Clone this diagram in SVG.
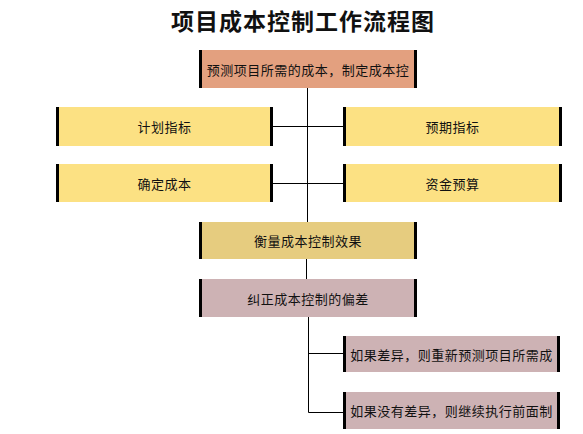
<svg xmlns="http://www.w3.org/2000/svg" width="583" height="434" viewBox="0 0 583 434">
<style>
.t{font-family:"Noto Sans CJK SC","Noto Sans",sans-serif;font-size:13px;fill:#111;text-anchor:middle;dominant-baseline:central;letter-spacing:0.5px}
.bar{stroke:#000;stroke-width:3}
.ln{stroke:#000;stroke-width:1;fill:none}
</style>
<rect width="583" height="434" fill="#fff"/>
<text x="303" y="20" style="font-family:'Noto Sans CJK SC',sans-serif;font-size:23px;font-weight:bold;fill:#111;text-anchor:middle;dominant-baseline:central;letter-spacing:1px">项目成本控制工作流程图</text>
<g id="connectors">
<path class="ln" d="M307.5 88 V222"/>
<path class="ln" d="M273 126.5 H343 M273 183.5 H343"/>
<path class="ln" d="M306.5 259 V279"/>
<path class="ln" d="M308.5 317 V412.5 H343 M308.5 353.5 H343"/>
</g>
<g id="n1"><rect x="199" y="50" width="218" height="38" fill="#E3A07F"/><path class="bar" d="M200.5 50V88M415.5 50V88"/><text class="t" x="308" y="69">预测项目所需的成本，制定成本控</text></g>
<g id="n2"><rect x="56" y="107" width="217" height="39" fill="#FCE183"/><path class="bar" d="M57.5 107V146M271.5 107V146"/><text class="t" x="164.5" y="126.5">计划指标</text></g>
<g id="n3"><rect x="343" y="107" width="219" height="39" fill="#FCE183"/><path class="bar" d="M344.5 107V146M560.5 107V146"/><text class="t" x="452.5" y="126.5">预期指标</text></g>
<g id="n4"><rect x="56" y="164" width="217" height="38" fill="#FCE183"/><path class="bar" d="M57.5 164V202M271.5 164V202"/><text class="t" x="164.5" y="183">确定成本</text></g>
<g id="n5"><rect x="343" y="164" width="219" height="38" fill="#FCE183"/><path class="bar" d="M344.5 164V202M560.5 164V202"/><text class="t" x="452.5" y="183">资金预算</text></g>
<g id="n6"><rect x="199" y="222" width="218" height="37" fill="#E6CC7F"/><path class="bar" d="M200.5 222V259M415.5 222V259"/><text class="t" x="308" y="240.5">衡量成本控制效果</text></g>
<g id="n7"><rect x="199" y="279" width="218" height="38" fill="#CDB2B4"/><path class="bar" d="M200.5 279V317M415.5 279V317"/><text class="t" x="308" y="298">纠正成本控制的偏差</text></g>
<g id="n8"><rect x="343" y="336" width="217" height="36" fill="#CDB2B4"/><path class="bar" d="M344.5 336V372M558.5 336V372"/><text class="t" x="451.5" y="354">如果差异，则重新预测项目所需成</text></g>
<g id="n9"><rect x="343" y="392" width="217" height="37" fill="#CDB2B4"/><path class="bar" d="M344.5 392V429M558.5 392V429"/><text class="t" x="451.5" y="410.5">如果没有差异，则继续执行前面制</text></g>
</svg>
